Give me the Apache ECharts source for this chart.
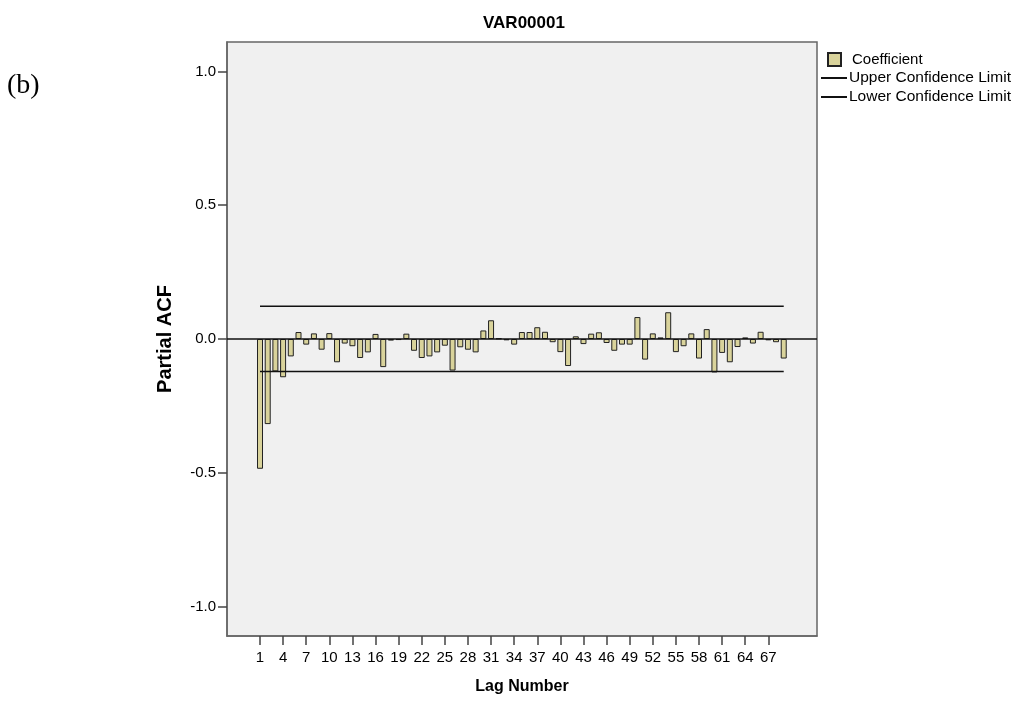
<!DOCTYPE html>
<html>
<head>
<meta charset="utf-8">
<script src="https://cdn.jsdelivr.net/npm/echarts@6/dist/echarts.min.js"></script>
<style>
  html, body { margin: 0; padding: 0; background: #fff; }
  #chart { width: 1023px; height: 705px; }
</style>
</head>
<body>
<div id="chart"></div>
<script>
const lags = [1, 2, 3, 4, 5, 6, 7, 8, 9, 10, 11, 12, 13, 14, 15, 16, 17, 18, 19, 20,
  21, 22, 23, 24, 25, 26, 27, 28, 29, 30, 31, 32, 33, 34, 35, 36, 37, 38, 39, 40,
  41, 42, 43, 44, 45, 46, 47, 48, 49, 50, 51, 52, 53, 54, 55, 56, 57, 58, 59, 60,
  61, 62, 63, 64, 65, 66, 67, 68, 69]
const pacf = [-0.485, -0.318, -0.121, -0.143, -0.065, 0.026, -0.021, 0.021, -0.040, 0.022,
  -0.087, -0.017, -0.027, -0.071, -0.050, 0.019, -0.105, -0.006, -0.004, 0.020,
  -0.044, -0.071, -0.065, -0.050, -0.025, -0.118, -0.031, -0.040, -0.050, 0.032,
  0.070, 0.002, -0.005, -0.021, 0.026, 0.026, 0.044, 0.027, -0.012, -0.049,
  -0.101, 0.010, -0.019, 0.020, 0.025, -0.015, -0.044, -0.021, -0.021, 0.082,
  -0.077, 0.021, 0.006, 0.100, -0.049, -0.027, 0.021, -0.073, 0.037, -0.125,
  -0.052, -0.087, -0.030, 0.006, -0.017, 0.027, -0.005, -0.012, -0.073]
const upperLimit = 0.122
const lowerLimit = -0.121
const xTicks = [1, 4, 7, 10, 13, 16, 19, 22, 25, 28, 31, 34, 37, 40, 43, 46, 49, 52, 55, 58, 61, 64, 67]
const yTicks = [-1, -0.5, 0, 0.5, 1]

const font = 'Liberation Sans, Arial, sans-serif'
const axisColor = '#666'
const first = lags[0]
const last = lags[lags.length - 1]

const chart = echarts.init(document.getElementById('chart'))
chart.setOption({
  animation: false,
  textStyle: { fontFamily: font },
  title: [
    {
      text: 'VAR00001',
      left: 478,
      top: 10,
      textStyle: { fontFamily: font, fontSize: 17, fontWeight: 'bold', color: '#000' },
    },
    {
      text: '(b)',
      left: 2,
      top: 67,
      textStyle: { fontFamily: 'Liberation Serif, Times New Roman, serif', fontSize: 28, fontWeight: 'normal', color: '#000' },
    },
  ],
  legend: [
    {
      orient: 'vertical',
      left: 822,
      top: 47,
      itemWidth: 13,
      itemHeight: 13,
      data: [{ name: 'Coefficient', icon: 'rect' }],
      textStyle: { fontFamily: font, fontSize: 15, color: '#000', padding: [0, 0, 0, 6] },
    },
    {
      orient: 'vertical',
      left: 816,
      top: 65,
      itemWidth: 26,
      itemHeight: 2,
      itemGap: 3,
      data: [
        { name: 'Upper Confidence Limit', icon: 'rect' },
        { name: 'Lower Confidence Limit', icon: 'rect' },
      ],
      textStyle: { fontFamily: font, fontSize: 15.5, color: '#000', padding: [0, 0, 0, -3] },
    },
  ],
  grid: {
    left: 227,
    top: 42,
    width: 590,
    height: 594,
    show: true,
    backgroundColor: '#f0f0f0',
    borderColor: axisColor,
    borderWidth: 1.5,
  },
  xAxis: {
    type: 'value',
    min: -3.285,
    max: 73.32,
    name: 'Lag Number',
    nameLocation: 'middle',
    nameGap: 43,
    nameTextStyle: { fontFamily: font, fontSize: 16, fontWeight: 'bold', color: '#000' },
    splitLine: { show: false },
    axisLine: { onZero: false, lineStyle: { color: axisColor, width: 1.5 } },
    axisTick: { customValues: xTicks, length: 9, lineStyle: { color: '#444', width: 1.5 } },
    axisLabel: { customValues: xTicks, margin: 14, fontSize: 15, color: '#000' },
  },
  yAxis: {
    type: 'value',
    min: -1.11,
    max: 1.11,
    name: 'Partial ACF',
    nameLocation: 'middle',
    nameGap: 52,
    nameTextStyle: { fontFamily: font, fontSize: 20, fontWeight: 'bold', color: '#000' },
    splitLine: { show: false },
    axisLine: { onZero: false, lineStyle: { color: axisColor, width: 1.5 } },
    axisTick: { customValues: yTicks, length: 9, lineStyle: { color: '#444', width: 1.5 } },
    axisLabel: {
      customValues: yTicks,
      margin: 11,
      fontSize: 15,
      color: '#000',
      formatter: (v) => v.toFixed(1),
    },
  },
  series: [
    {
      name: 'Coefficient',
      type: 'bar',
      data: lags.map((lag, i) => [lag, pacf[i]]),
      barWidth: 6,
      itemStyle: { color: '#d9d39b', borderColor: '#222', borderWidth: 1 },
      markLine: {
        silent: true,
        symbol: 'none',
        label: { show: false },
        lineStyle: { color: '#111', width: 1.5, type: 'solid' },
        data: [{ yAxis: 0 }],
      },
    },
    {
      name: 'Upper Confidence Limit',
      type: 'line',
      symbol: 'none',
      data: [[first, upperLimit], [last, upperLimit]],
      lineStyle: { color: '#111', width: 1.5 },
      itemStyle: { color: '#111' },
    },
    {
      name: 'Lower Confidence Limit',
      type: 'line',
      symbol: 'none',
      data: [[first, lowerLimit], [last, lowerLimit]],
      lineStyle: { color: '#111', width: 1.5 },
      itemStyle: { color: '#111' },
    },
  ],
})
</script>
</body>
</html>
